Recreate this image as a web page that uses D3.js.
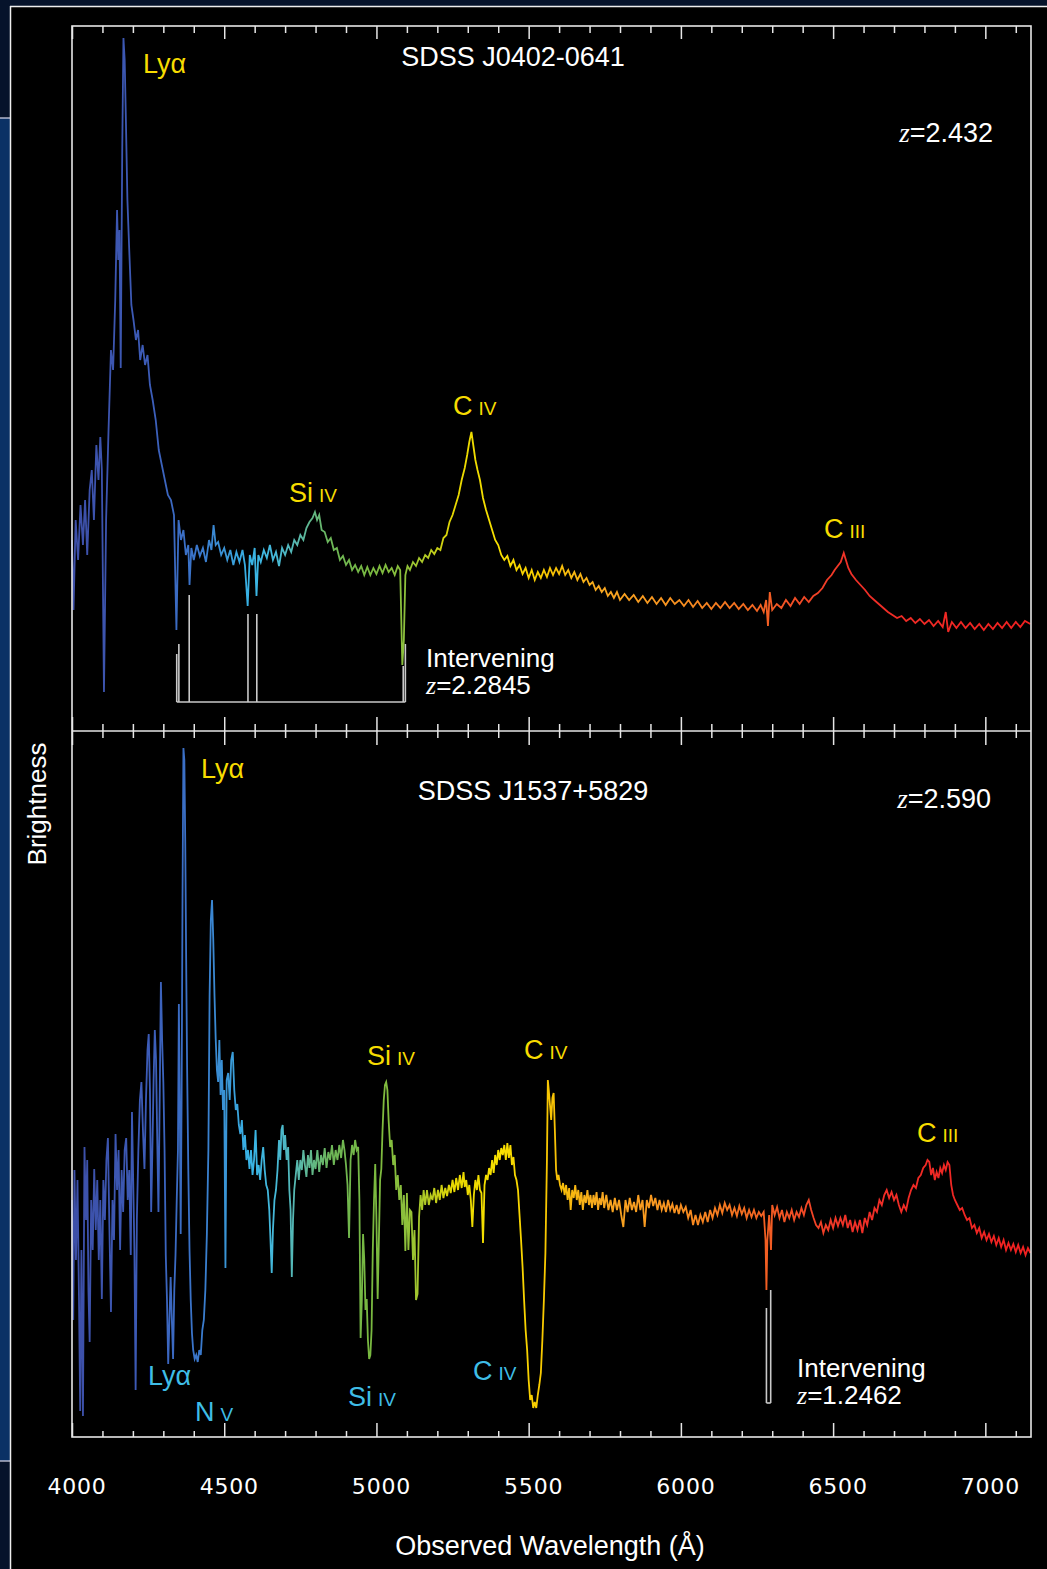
<!DOCTYPE html>
<html>
<head>
<meta charset="utf-8">
<script src="https://cdn.jsdelivr.net/npm/d3@7/dist/d3.min.js"></script>
<style>
  html, body { margin: 0; padding: 0; background: #000; }
  svg { display: block; }
</style>
</head>
<body>
<script>
// spectra: [wavelength (A), brightness]
var topSpec = [
  [4000,1.91],[4005,1.21],[4012,2.11],[4020,1.71],[4028,2.26],[4036,1.86],[4043,2.31],[4050,1.76],[4058,2.41],[4065,2.61],
  [4072,2.11],[4080,2.86],[4087,2.51],[4093,2.94],[4098,2.61],[4105,0.39],[4112,2.11],[4120,3.01],[4128,3.81],[4135,3.61],
  [4142,4.31],[4148,5.21],[4152,4.71],[4156,5.01],[4160,3.63],[4165,5.81],[4169,6.93],[4173,6.71],[4177,6.11],[4182,5.31],
  [4188,4.81],[4195,4.26],[4202,4.11],[4210,3.91],[4217,4.01],[4224,3.71],[4232,3.86],[4240,3.66],[4248,3.76],[4256,3.46],
  [4265,3.31],[4275,3.11],[4285,2.81],[4295,2.66],[4305,2.51],[4315,2.36],[4325,2.31],[4335,2.16],[4343,1.01],[4350,2.11],
  [4358,1.91],[4366,2.01],[4374,1.76],[4382,1.86],[4386,1.46],[4392,1.83],[4400,1.71],[4410,1.86],[4420,1.75],[4430,1.83],
  [4440,1.69],[4450,1.91],[4458,1.81],[4465,2.06],[4472,1.86],[4480,1.89],[4490,1.76],[4500,1.83],[4510,1.71],[4520,1.81],
  [4530,1.66],[4540,1.79],[4550,1.69],[4560,1.81],[4568,1.66],[4577,1.25],[4584,1.76],[4592,1.66],[4600,1.83],[4606,1.35],
  [4612,1.76],[4620,1.69],[4630,1.81],[4640,1.73],[4650,1.86],[4660,1.71],[4670,1.79],[4680,1.65],[4690,1.83],[4700,1.76],
  [4710,1.86],[4720,1.79],[4730,1.91],[4740,1.86],[4750,1.96],[4760,1.91],[4770,2.03],[4780,2.09],[4790,2.13],[4798,2.19],
  [4805,2.11],[4812,2.16],[4820,2.01],[4830,1.99],[4840,1.89],[4850,1.93],[4860,1.81],[4870,1.83],[4880,1.71],[4890,1.75],
  [4900,1.66],[4910,1.71],[4920,1.61],[4930,1.66],[4940,1.59],[4950,1.65],[4960,1.56],[4970,1.64],[4980,1.56],[4990,1.63],
  [5000,1.57],[5010,1.65],[5020,1.58],[5030,1.66],[5040,1.59],[5050,1.63],[5060,1.56],[5070,1.65],[5078,1.61],[5085,0.66],
  [5090,0.91],[5095,1.56],[5102,1.65],[5110,1.61],[5120,1.69],[5130,1.65],[5140,1.73],[5150,1.69],[5160,1.76],[5170,1.73],
  [5180,1.81],[5190,1.77],[5200,1.83],[5210,1.81],[5220,1.93],[5230,1.96],[5240,2.09],[5250,2.16],[5260,2.26],[5270,2.36],
  [5280,2.51],[5290,2.63],[5298,2.76],[5305,2.89],[5312,2.99],[5318,2.86],[5325,2.71],[5332,2.61],[5340,2.51],[5350,2.33],
  [5360,2.21],[5370,2.11],[5380,2.01],[5390,1.91],[5400,1.86],[5410,1.76],[5420,1.71],[5430,1.75],[5440,1.65],[5450,1.71],
  [5460,1.61],[5470,1.66],[5480,1.57],[5490,1.63],[5500,1.53],[5510,1.61],[5520,1.51],[5530,1.59],[5540,1.53],[5550,1.61],
  [5560,1.54],[5570,1.63],[5580,1.56],[5590,1.63],[5600,1.57],[5610,1.65],[5620,1.56],[5630,1.61],[5640,1.53],[5650,1.59],
  [5660,1.51],[5670,1.57],[5680,1.49],[5690,1.53],[5700,1.46],[5710,1.49],[5720,1.41],[5730,1.45],[5740,1.39],[5750,1.43],
  [5760,1.35],[5770,1.39],[5780,1.33],[5790,1.39],[5800,1.31],[5815,1.37],[5830,1.31],[5845,1.36],[5860,1.29],[5875,1.35],
  [5890,1.28],[5905,1.34],[5920,1.27],[5935,1.33],[5950,1.26],[5965,1.33],[5980,1.27],[5995,1.31],[6010,1.25],[6025,1.31],
  [6040,1.24],[6055,1.30],[6070,1.23],[6085,1.28],[6100,1.22],[6115,1.28],[6130,1.23],[6145,1.29],[6160,1.23],[6175,1.28],
  [6190,1.22],[6205,1.27],[6220,1.21],[6235,1.26],[6250,1.20],[6262,1.26],[6272,1.19],[6280,1.31],[6286,1.05],[6292,1.39],
  [6300,1.21],[6315,1.27],[6330,1.23],[6345,1.31],[6360,1.25],[6375,1.33],[6390,1.27],[6405,1.34],[6420,1.29],[6435,1.35],
  [6450,1.38],[6465,1.43],[6480,1.51],[6495,1.56],[6505,1.61],[6515,1.65],[6525,1.69],[6535,1.78],[6542,1.71],[6550,1.63],
  [6560,1.57],[6575,1.51],[6590,1.46],[6605,1.41],[6620,1.35],[6635,1.31],[6650,1.27],[6665,1.23],[6680,1.19],[6695,1.16],
  [6710,1.13],[6725,1.15],[6740,1.10],[6755,1.13],[6770,1.08],[6785,1.12],[6800,1.07],[6815,1.11],[6830,1.05],[6845,1.10],
  [6860,1.04],[6870,1.19],[6878,0.99],[6890,1.09],[6905,1.03],[6920,1.09],[6935,1.03],[6950,1.08],[6965,1.02],[6980,1.07],
  [6995,1.01],[7010,1.07],[7025,1.02],[7040,1.08],[7055,1.03],[7070,1.09],[7085,1.03],[7100,1.09],[7115,1.04],[7130,1.10],
  [7148,1.07]
];

var botSpec = [
  [4000,2.37],[4004,1.17],[4008,2.67],[4013,1.77],[4018,2.57],[4023,1.37],[4027,0.26],[4031,1.87],[4036,0.21],[4041,2.90],
  [4046,2.17],[4050,2.77],[4054,1.47],[4058,0.95],[4063,2.37],[4068,1.87],[4073,2.68],[4078,2.07],[4083,2.57],[4088,1.77],
  [4093,2.37],[4098,1.38],[4103,2.57],[4108,2.17],[4113,2.77],[4118,2.99],[4123,2.07],[4128,1.25],[4133,2.37],[4138,1.97],
  [4143,3.03],[4148,2.47],[4153,2.87],[4158,1.87],[4163,2.67],[4168,2.25],[4173,2.87],[4178,2.99],[4183,2.37],[4188,2.67],
  [4193,1.82],[4197,3.25],[4201,2.57],[4205,1.87],[4209,0.47],[4213,2.17],[4218,2.87],[4223,3.37],[4228,3.55],[4233,3.07],
  [4238,2.68],[4243,3.37],[4248,3.87],[4252,4.03],[4256,3.47],[4260,2.25],[4264,2.87],[4268,3.57],[4272,4.07],[4276,3.77],
  [4280,2.97],[4284,2.25],[4288,3.37],[4292,4.55],[4296,3.97],[4300,3.55],[4304,2.87],[4308,1.82],[4312,1.37],[4316,0.73],
  [4320,1.17],[4324,1.60],[4328,1.17],[4332,0.78],[4336,1.47],[4340,1.82],[4344,2.37],[4348,2.87],[4351,4.33],[4354,3.37],
  [4357,2.03],[4360,3.37],[4363,5.37],[4366,6.89],[4369,6.77],[4372,5.94],[4375,4.77],[4378,3.72],[4382,2.68],[4386,1.87],
  [4390,1.37],[4394,1.04],[4398,0.87],[4403,0.78],[4408,0.82],[4413,0.75],[4418,0.87],[4423,0.82],[4428,1.07],[4433,1.17],
  [4438,1.47],[4443,2.03],[4448,2.87],[4452,4.42],[4456,5.17],[4460,5.37],[4464,4.97],[4468,4.42],[4472,3.98],[4476,3.67],
  [4480,3.55],[4484,3.97],[4488,3.42],[4492,3.77],[4496,3.27],[4500,3.47],[4504,1.69],[4508,3.57],[4513,3.64],[4518,3.37],
  [4523,3.77],[4528,3.85],[4533,3.47],[4538,3.27],[4543,3.33],[4548,3.12],[4553,3.03],[4558,3.17],[4563,2.87],[4568,3.02],
  [4573,2.77],[4578,2.87],[4583,2.68],[4588,2.87],[4593,2.62],[4598,2.77],[4603,3.07],[4608,2.62],[4613,2.72],[4618,2.57],
  [4623,2.77],[4628,2.90],[4633,2.67],[4638,2.52],[4643,2.47],[4648,2.27],[4652,1.97],[4656,1.64],[4660,2.07],[4665,2.37],
  [4670,2.47],[4675,2.67],[4680,2.97],[4684,2.77],[4688,3.07],[4692,3.12],[4696,2.87],[4700,3.02],[4705,2.77],[4710,2.90],
  [4714,2.47],[4718,2.27],[4722,1.60],[4726,2.17],[4730,2.47],[4735,2.62],[4740,2.77],[4745,2.57],[4750,2.77],[4755,2.67],
  [4760,2.87],[4765,2.72],[4770,2.60],[4775,2.82],[4780,2.69],[4785,2.87],[4790,2.62],[4795,2.77],[4800,2.68],[4806,2.87],
  [4812,2.65],[4818,2.82],[4824,2.72],[4830,2.89],[4836,2.69],[4842,2.85],[4848,2.77],[4854,2.92],[4860,2.72],[4866,2.87],
  [4872,2.77],[4878,2.92],[4884,2.79],[4890,2.97],[4895,2.87],[4900,2.72],[4905,2.52],[4910,1.99],[4915,2.77],[4920,2.92],
  [4925,2.82],[4930,2.97],[4935,2.87],[4940,2.90],[4944,2.37],[4948,0.99],[4952,1.37],[4956,2.03],[4960,1.77],[4964,1.27],
  [4968,1.38],[4972,0.97],[4976,0.78],[4980,0.82],[4984,1.07],[4988,1.87],[4992,2.37],[4996,2.73],[5000,2.17],[5004,1.38],
  [5008,1.97],[5012,2.57],[5016,2.68],[5020,3.07],[5024,3.37],[5028,3.52],[5032,3.55],[5036,3.47],[5040,3.17],[5045,2.90],
  [5050,2.97],[5055,2.72],[5060,2.82],[5065,2.47],[5070,2.62],[5075,2.37],[5080,2.52],[5085,2.12],[5090,2.42],[5095,1.86],
  [5100,2.44],[5105,1.87],[5110,2.27],[5115,2.25],[5120,1.77],[5125,2.07],[5130,1.37],[5135,1.43],[5140,2.20],[5145,2.42],
  [5150,2.27],[5155,2.47],[5160,2.32],[5166,2.47],[5172,2.32],[5178,2.42],[5184,2.37],[5190,2.49],[5196,2.34],[5202,2.47],
  [5208,2.37],[5214,2.52],[5220,2.39],[5226,2.49],[5232,2.41],[5238,2.52],[5244,2.44],[5250,2.57],[5256,2.45],[5262,2.59],
  [5268,2.47],[5274,2.62],[5280,2.49],[5286,2.65],[5290,2.50],[5295,2.57],[5300,2.42],[5305,2.52],[5310,2.37],[5315,2.10],
  [5320,2.42],[5325,2.57],[5330,2.47],[5335,2.62],[5340,2.47],[5345,2.44],[5350,1.94],[5355,2.52],[5360,2.62],[5365,2.57],
  [5370,2.69],[5375,2.62],[5380,2.77],[5385,2.64],[5390,2.82],[5395,2.72],[5400,2.87],[5405,2.77],[5410,2.89],[5415,2.82],
  [5420,2.92],[5425,2.77],[5430,2.94],[5435,2.79],[5440,2.92],[5445,2.72],[5450,2.80],[5455,2.62],[5460,2.57],[5465,2.47],
  [5470,2.22],[5475,1.97],[5480,1.70],[5485,1.37],[5490,1.07],[5495,0.87],[5500,0.57],[5505,0.37],[5510,0.42],[5515,0.29],
  [5520,0.35],[5525,0.29],[5530,0.42],[5535,0.52],[5540,0.64],[5545,0.97],[5550,1.37],[5555,1.84],[5560,2.77],[5563,3.57],
  [5566,3.47],[5570,3.32],[5574,3.17],[5578,3.39],[5582,3.44],[5586,3.07],[5590,2.67],[5594,2.57],[5598,2.62],[5603,2.52],
  [5608,2.47],[5613,2.54],[5618,2.42],[5623,2.52],[5628,2.37],[5633,2.49],[5638,2.27],[5643,2.47],[5648,2.39],[5653,2.52],
  [5658,2.37],[5663,2.47],[5668,2.32],[5673,2.45],[5678,2.27],[5683,2.42],[5688,2.34],[5693,2.47],[5698,2.32],[5703,2.42],
  [5708,2.29],[5713,2.42],[5718,2.32],[5723,2.45],[5728,2.27],[5733,2.39],[5738,2.32],[5743,2.45],[5748,2.29],[5755,2.42],
  [5762,2.27],[5769,2.37],[5776,2.25],[5783,2.39],[5790,2.27],[5797,2.37],[5804,2.22],[5811,2.10],[5818,2.37],[5825,2.25],
  [5832,2.39],[5839,2.27],[5846,2.35],[5853,2.25],[5860,2.42],[5867,2.27],[5874,2.37],[5881,2.10],[5888,2.37],[5895,2.29],
  [5902,2.42],[5909,2.31],[5916,2.39],[5923,2.27],[5930,2.37],[5937,2.27],[5944,2.34],[5951,2.25],[5958,2.37],[5965,2.27],
  [5972,2.33],[5979,2.24],[5986,2.32],[5993,2.23],[6000,2.32],[6008,2.25],[6016,2.30],[6024,2.19],[6032,2.27],[6040,2.12],
  [6048,2.22],[6056,2.12],[6064,2.22],[6072,2.15],[6080,2.25],[6088,2.15],[6096,2.27],[6104,2.19],[6112,2.29],[6120,2.22],
  [6128,2.32],[6136,2.24],[6144,2.34],[6152,2.27],[6160,2.32],[6168,2.22],[6176,2.29],[6184,2.21],[6192,2.31],[6200,2.23],
  [6208,2.29],[6216,2.19],[6224,2.27],[6232,2.20],[6240,2.27],[6248,2.19],[6256,2.25],[6264,2.21],[6272,2.25],[6278,1.97],
  [6281,1.47],[6284,1.97],[6290,2.22],[6296,1.87],[6300,2.32],[6308,2.22],[6316,2.30],[6324,2.19],[6332,2.27],[6340,2.15],
  [6348,2.25],[6356,2.19],[6364,2.27],[6372,2.17],[6380,2.25],[6388,2.20],[6396,2.29],[6404,2.22],[6412,2.32],[6420,2.37],
  [6428,2.27],[6436,2.19],[6444,2.12],[6452,2.09],[6460,2.15],[6468,2.04],[6476,2.12],[6484,2.07],[6492,2.17],[6500,2.09],
  [6508,2.19],[6516,2.11],[6524,2.19],[6532,2.12],[6540,2.22],[6548,2.09],[6556,2.17],[6564,2.05],[6572,2.15],[6580,2.07],
  [6588,2.17],[6596,2.04],[6604,2.19],[6612,2.12],[6620,2.25],[6628,2.17],[6636,2.29],[6644,2.25],[6652,2.37],[6660,2.32],
  [6668,2.42],[6676,2.47],[6684,2.39],[6692,2.45],[6700,2.37],[6708,2.42],[6716,2.32],[6724,2.25],[6732,2.32],[6740,2.27],
  [6748,2.39],[6756,2.47],[6764,2.52],[6772,2.49],[6780,2.59],[6788,2.62],[6796,2.69],[6804,2.72],[6810,2.77],[6816,2.75],
  [6822,2.62],[6828,2.69],[6834,2.57],[6840,2.65],[6846,2.59],[6852,2.69],[6858,2.64],[6864,2.72],[6870,2.67],[6876,2.75],
  [6882,2.72],[6888,2.52],[6894,2.42],[6900,2.37],[6908,2.32],[6916,2.27],[6924,2.29],[6932,2.22],[6940,2.17],[6948,2.19],
  [6956,2.09],[6964,2.12],[6972,2.04],[6980,2.09],[6988,1.99],[6996,2.05],[7004,1.97],[7012,2.03],[7020,1.95],[7028,2.01],
  [7036,1.92],[7044,1.99],[7052,1.90],[7060,1.97],[7068,1.87],[7076,1.94],[7084,1.87],[7092,1.93],[7100,1.85],[7108,1.92],
  [7116,1.84],[7124,1.90],[7132,1.82],[7140,1.89],[7148,1.84]
];

// intervening absorber marks
var topAbsWave = [4344, 4351, 4385, 4578, 4607, 5088, 5095];
var topAbsTop  = [0.77, 0.87, 1.36, 1.17, 1.17, 0.65, 0.87];
var topAbsBase = 0.29;
var botAbsWave = [6281, 6295];
var botAbsTop  = [1.29, 1.47];
var botAbsBase = 0.34;

// colour along wavelength
var stopWave  = [4000, 4256, 4420, 4519, 4584, 4666, 4749, 4847, 4978, 5093, 5175, 5257, 5405, 5553, 5733, 5996, 6193, 6357, 6554, 7150];
var stopColor = ["#3d4fa8", "#3c5cb8", "#3a78cc", "#3a9ad8", "#38b4e6", "#45b8d8", "#5ab8a8", "#6cb658", "#78b840", "#8cc03c",
                 "#b8cc20", "#e8d800", "#f8e000", "#f8c800", "#f8a820", "#f89020", "#f47020", "#f25025", "#f03028", "#f02020"];

var minorTicks = d3.range(4000, 7101, 100);
var majorTicks = [4000, 4500, 5000, 5500, 6000, 6500, 7000];

window.addEventListener('DOMContentLoaded', () => {
    var width = 1047;
    var height = 1569;

    var svg = d3.select("body")
        .append("svg")
        .attr("width", width)
        .attr("height", height);

    // backdrop: black page with the blue strip and white rules on the left
    svg.append("rect").attr("width", width).attr("height", height).attr("fill", "#000");
    svg.append("rect").attr("x", 0).attr("y", 0).attr("width", width).attr("height", 6).attr("fill", "#06132b");
    svg.append("rect").attr("x", 0).attr("y", 0).attr("width", 10).attr("height", 118).attr("fill", "#06132b");
    svg.append("rect").attr("x", 0).attr("y", 118).attr("width", 10).attr("height", 1343).attr("fill", "#0b3165");
    svg.append("rect").attr("x", 0).attr("y", 1461).attr("width", 10).attr("height", 108).attr("fill", "#06132b");
    svg.append("line").attr("x1", 0).attr("x2", 10).attr("y1", 118).attr("y2", 118).attr("stroke", "#dde").attr("stroke-width", 1.2);
    svg.append("line").attr("x1", 0).attr("x2", 10).attr("y1", 1461).attr("y2", 1461).attr("stroke", "#dde").attr("stroke-width", 1.2);
    svg.append("line").attr("x1", 10.5).attr("x2", 10.5).attr("y1", 6).attr("y2", height).attr("stroke", "#eee").attr("stroke-width", 1.5);
    svg.append("line").attr("x1", 10).attr("x2", width).attr("y1", 6.5).attr("y2", 6.5).attr("stroke", "#eee").attr("stroke-width", 1.5);

    var x = d3.scaleLinear().domain([4000, 7150]).range([72, 1031]);
    var yTop = d3.scaleLinear().domain([0, 7.05]).range([731, 26]);
    var yBot = d3.scaleLinear().domain([0, 7.06]).range([1437, 731]);

    // rainbow gradient in wavelength
    var grad = svg.append("defs").append("linearGradient")
        .attr("id", "rainbow")
        .attr("gradientUnits", "userSpaceOnUse")
        .attr("x1", x(4000)).attr("x2", x(7150))
        .attr("y1", 0).attr("y2", 0);
    grad.selectAll("stop")
        .data(stopWave)
        .enter()
        .append("stop")
        .attr("offset", d => (x(d) - x(4000)) / (x(7150) - x(4000)))
        .attr("stop-color", (d, i) => stopColor[i]);

    // absorber markers (grey)
    function drawAbs(waves, tops, base, yScale) {
        var g = svg.append("g").attr("stroke", "#c9c9c9").attr("stroke-width", 1.6).attr("fill", "none");
        g.append("line")
            .attr("x1", x(waves[0])).attr("x2", x(waves[waves.length - 1]))
            .attr("y1", yScale(base)).attr("y2", yScale(base));
        g.selectAll(".tk")
            .data(waves)
            .enter()
            .append("line")
            .attr("x1", d => x(d)).attr("x2", d => x(d))
            .attr("y1", (d, i) => yScale(tops[i]))
            .attr("y2", yScale(base));
    }
    drawAbs(topAbsWave, topAbsTop, topAbsBase, yTop);
    drawAbs(botAbsWave, botAbsTop, botAbsBase, yBot);

    // spectra
    var lineTop = d3.line().x(d => x(d[0])).y(d => yTop(d[1]));
    var lineBot = d3.line().x(d => x(d[0])).y(d => yBot(d[1]));
    svg.append("path").datum(topSpec)
        .attr("d", lineTop)
        .attr("fill", "none")
        .attr("stroke", "url(#rainbow)")
        .attr("stroke-width", 1.8)
        .attr("stroke-linejoin", "miter");
    svg.append("path").datum(botSpec)
        .attr("d", lineBot)
        .attr("fill", "none")
        .attr("stroke", "url(#rainbow)")
        .attr("stroke-width", 1.8)
        .attr("stroke-linejoin", "miter");

    // frame
    var frame = svg.append("g").attr("stroke", "#e6e6e6").attr("stroke-width", 1.6).attr("fill", "none");
    frame.append("rect").attr("x", 72).attr("y", 26).attr("width", 1031 - 72).attr("height", 1437 - 26);
    frame.append("line").attr("x1", 72).attr("x2", 1031).attr("y1", 731).attr("y2", 731);

    // tick marks
    function ticks(yPos, axisFn, vals, size) {
        svg.append("g")
            .attr("transform", "translate(0," + yPos + ")")
            .call(axisFn(x).tickValues(vals).tickSize(size).tickFormat(""))
            .call(g => g.select(".domain").remove())
            .call(g => g.selectAll("line").attr("stroke", "#e6e6e6").attr("stroke-width", 1.5));
    }
    var minorOnly = minorTicks.filter(d => d % 500 !== 0);
    ticks(26, d3.axisBottom, minorOnly, 7);
    ticks(26, d3.axisBottom, majorTicks, 13);
    ticks(731, d3.axisBottom, minorOnly, 7);
    ticks(731, d3.axisTop, minorOnly, 7);
    ticks(731, d3.axisBottom, majorTicks, 14);
    ticks(731, d3.axisTop, majorTicks, 14);
    ticks(1437, d3.axisTop, minorOnly, 6);
    ticks(1437, d3.axisTop, majorTicks, 14);

    // tick labels
    svg.append("g")
        .attr("transform", "translate(0,1437)")
        .call(d3.axisBottom(x).tickValues(majorTicks).tickSize(0).tickPadding(41).tickFormat(d3.format("d")))
        .call(g => g.select(".domain").remove())
        .call(g => g.selectAll("text")
            .attr("dx", 4.5)
            .attr("fill", "#fff")
            .attr("font-family", "DejaVu Sans")
            .attr("font-size", 22)
            .attr("letter-spacing", 0.8));

    // axis titles
    svg.append("text")
        .attr("x", 550).attr("y", 1555)
        .attr("text-anchor", "middle")
        .attr("fill", "#fff")
        .attr("font-family", "Liberation Sans")
        .attr("font-size", 27)
        .text("Observed Wavelength (Å)");
    svg.append("text")
        .attr("transform", "translate(46,804) rotate(-90)")
        .attr("text-anchor", "middle")
        .attr("fill", "#fff")
        .attr("font-family", "Liberation Sans")
        .attr("font-size", 26)
        .text("Brightness");

    // titles and redshifts
    function plain(txt, px, py, anchor, fs) {
        svg.append("text")
            .attr("x", px).attr("y", py)
            .attr("text-anchor", anchor)
            .attr("fill", "#fff")
            .attr("font-family", "Liberation Sans")
            .attr("font-size", fs || 27)
            .text(txt);
    }
    plain("SDSS J0402-0641", 513, 66, "middle");
    plain("SDSS J1537+5829", 533, 800, "middle");

    function zText(val, px, py, anchor, fs) {
        var t = svg.append("text")
            .attr("x", px).attr("y", py)
            .attr("text-anchor", anchor)
            .attr("fill", "#fff")
            .attr("font-family", "Liberation Sans")
            .attr("font-size", fs || 27);
        t.append("tspan").attr("font-family", "Liberation Serif").attr("font-style", "italic").text("z");
        t.append("tspan").text("=" + val);
        return t;
    }
    zText("2.432", 993, 142, "end");
    zText("2.590", 991, 808, "end");

    // two-line notes for the intervening absorbers
    plain("Intervening", 426, 667, "start", 26);
    zText("2.2845", 426, 694, "start", 26);
    plain("Intervening", 797, 1377, "start", 26);
    zText("1.2462", 797, 1404, "start", 26);

    // line identifications
    var yellow = "#f7dc00";
    var cyan = "#3fbde6";
    function ion(main, num, px, py, col) {
        var t = svg.append("text")
            .attr("x", px).attr("y", py)
            .attr("fill", col)
            .attr("font-family", "Liberation Sans")
            .attr("font-size", 27);
        t.append("tspan").text(main);
        if (num) t.append("tspan").attr("font-size", 19).attr("dx", 6).text(num);
    }
    ion("Lyα", null, 143, 73, yellow);
    ion("Si", "IV", 289, 502, yellow);
    ion("C", "IV", 453, 415, yellow);
    ion("C", "III", 824, 538, yellow);

    ion("Lyα", null, 201, 778, yellow);
    ion("Si", "IV", 367, 1065, yellow);
    ion("C", "IV", 524, 1059, yellow);
    ion("C", "III", 917, 1142, yellow);

    ion("Lyα", null, 148, 1385, cyan);
    ion("N", "V", 195, 1421, cyan);
    ion("Si", "IV", 348, 1406, cyan);
    ion("C", "IV", 473, 1380, cyan);
});
</script>
</body>
</html>
